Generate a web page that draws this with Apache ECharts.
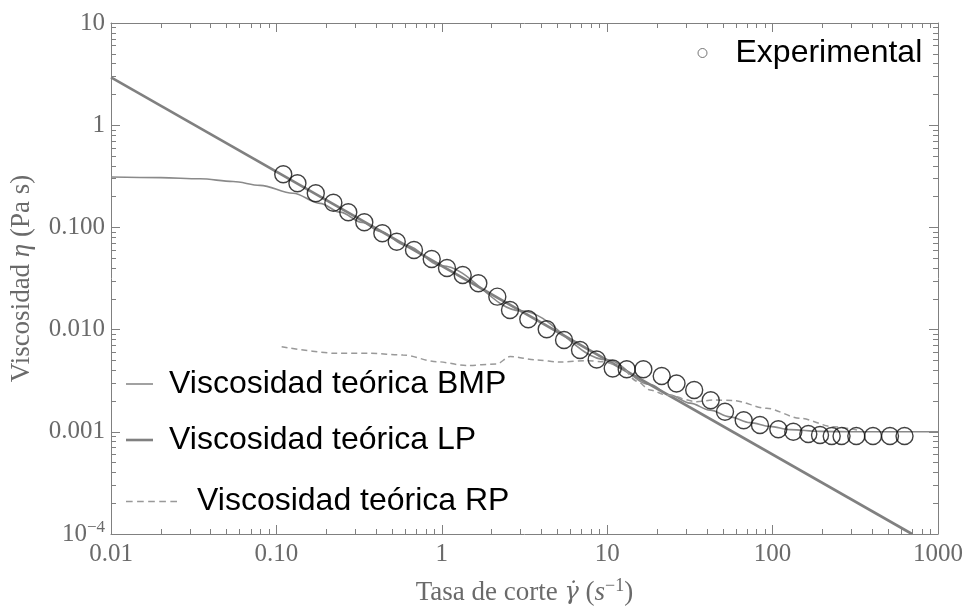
<!DOCTYPE html>
<html><head><meta charset="utf-8">
<script src="https://cdn.jsdelivr.net/npm/echarts@6/dist/echarts.min.js"></script>
<style>html,body{margin:0;padding:0;background:#fff}#c{width:968px;height:606px}</style>
</head><body><div id="c"></div>
<script>
// ---- data ----
const expX = [0.110,0.134,0.173,0.221,0.272,0.340,0.437,0.534,0.679,0.869,1.075,1.338,1.663,2.166,2.584,3.334,4.308,5.483,6.849,8.64,10.80,13.12,16.54,21.36,26.24,33.57,42.26,51.55,66.87,83.9,108.3,133.4,164.4,193.5,227.7,261.1,320.7,404.6,512.6,627.5];
const expY = [0.331,0.270,0.2157,0.1745,0.1405,0.1122,0.0876,0.0724,0.0601,0.0491,0.0401,0.0342,0.0284,0.0210,0.01555,0.01261,0.01007,0.00791,0.00631,0.00510,0.00416,0.00409,0.00409,0.00352,0.00297,0.002565,0.002033,0.001573,0.001296,0.001166,0.00106,0.001002,0.000952,0.000930,0.000909,0.000909,0.000909,0.000909,0.000909,0.000909];

const bmpX = [0.01,0.02,0.0345,0.0547,0.0796,0.126,0.1835,0.2424,0.33,0.423,0.6,1.0,3.0,10,18.15,23.97,31.67,41.83,55.26,73.0,96.4,127.4,193.4,337.6,1000];
const bmpY = [0.311,0.307,0.299,0.281,0.258,0.216,0.172,0.141,0.112,0.0915,0.067,0.0421,0.0153,0.00505,0.0029,0.00229,0.00191,0.00163,0.00140,0.00123,0.00113,0.00105,0.00101,0.001,0.001];

const lpX = [0.01, 697];
const lpY = [2.94, 0.0001];

const rpX = [0.1076,0.2315,0.368,0.5825,0.9316,1.414,2.147,2.585,3.748,5.184,7.516,9.432,11.95,15.08,18.15,22.89,34.76,43.62,57.62,92.1,146.5,231.8,323.8];
const rpY = [0.006804,0.005863,0.005863,0.005643,0.004852,0.004453,0.004606,0.005455,0.005042,0.004819,0.004963,0.004852,0.004403,0.003142,0.002565,0.002291,0.00197,0.002047,0.002024,0.001698,0.001356,0.001122,0.001041];

const xTicks = [0.01,0.1,1,10,100,1000];
const xTickLabels = ['0.01','0.10','1','10','100','1000'];
const yTicks = [0.0001,0.001,0.01,0.1,1,10];
const yTickLabels = ['10^\u22124','0.001','0.010','0.100','1','10'];

const names = ['Experimental','Viscosidad teórica BMP','Viscosidad teórica LP','Viscosidad teórica RP'];

// ---- helpers ----
const zip = (a,b) => a.map((v,i)=>[v,b[i]]);
function minorLogs(lo, hi){ const out=[]; for(let d=lo; d<hi; d++) for(let k=2;k<=9;k++) out.push(d+Math.log10(k)); return out; }
function tickIdx(arr, v){ return arr.findIndex(t => Math.abs(Math.log10(t)-Math.log10(v)) < 1e-6); }

const AX = '#808080';
const LBL = '#6a6a6a';
const SERIF = 'Liberation Serif';
const SANS = 'Liberation Sans';

function logAxis(kind, pos, showLabels){
  const isX = kind === 'x';
  const ax = {
    type:'log', logBase:10, position:pos, splitNumber:5,
    min: isX ? xTicks[0] : yTicks[0], max: isX ? xTicks[5] : yTicks[5],
    axisLine:{show:true, onZero:false, lineStyle:{color:AX, width:1}},
    axisTick:{show:true, inside:true, length:9, lineStyle:{color:AX, width:1}},
    splitLine:{show:false}, minorTick:{show:false}, minorSplitLine:{show:false},
    axisLabel:{show:false}
  };
  if (showLabels){
    ax.axisLabel = {
      show:true, color:LBL, fontFamily:SERIF, fontSize:25, margin: isX ? 8 : 6,
      formatter: v => {
        const i = tickIdx(isX ? xTicks : yTicks, v);
        if (i < 0) return '';
        const s = (isX ? xTickLabels : yTickLabels)[i];
        if (s.indexOf('^') >= 0){ const p = s.split('^'); return '{b|'+p[0]+'}{s|'+p[1]+'}'; }
        return s;
      },
      rich:{
        b:{fontFamily:SERIF, fontSize:25, color:LBL, lineHeight:30},
        s:{fontFamily:SERIF, fontSize:17, color:LBL, verticalAlign:'top', lineHeight:30}
      }
    };
  }
  return ax;
}
function minorAxis(kind, pos){
  const isX = kind === 'x';
  return {
    type:'value', position:pos, min: isX ? -2 : -4, max: isX ? 3 : 1,
    axisLine:{show:false, onZero:false},
    axisTick:{show:true, inside:true, length:5, lineStyle:{color:AX, width:1}, customValues: isX ? minorLogs(-2,3) : minorLogs(-4,1)},
    axisLabel:{show:false}, splitLine:{show:false}
  };
}

const TF = 27;
const xA = logAxis('x','bottom',true);
xA.name = '{n|Tasa de corte }{g|\u03B3\u0307}{n| (}{i|s}{p|\u22121}{n|)}';
xA.nameLocation = 'middle';
xA.nameGap = 43;
xA.nameTextStyle = {
  color:LBL, fontFamily:SERIF, fontSize:TF,
  rich:{
    n:{fontFamily:SERIF, fontSize:TF, color:LBL, lineHeight:32},
    g:{fontFamily:'DejaVu Serif', fontSize:TF-3, fontStyle:'italic', color:LBL, lineHeight:32},
    i:{fontFamily:SERIF, fontSize:TF, fontStyle:'italic', color:LBL, lineHeight:32},
    p:{fontFamily:SERIF, fontSize:18, color:LBL, verticalAlign:'top', lineHeight:32}
  }
};
const yA = logAxis('y','left',true);
yA.name = '{n|Viscosidad }{i|\u03B7}{n| (Pa s)}';
yA.nameLocation = 'middle';
yA.nameGap = 76;
yA.nameTextStyle = {
  color:LBL, fontFamily:SERIF, fontSize:TF,
  rich:{
    n:{fontFamily:SERIF, fontSize:TF, color:LBL},
    i:{fontFamily:SERIF, fontSize:TF, fontStyle:'italic', color:LBL}
  }
};

const legendText = (padL) => ({fontFamily:SANS, fontSize:32, color:'#000', padding:[0,0,15,padL]});
const dashIcon = 'path://M0,0H6V1H0Z M10,0H16V1H10Z M20,0H26V1H20Z M30,0H36V1H30Z M40,0H46V1H40Z';

const option = {
  animation:false,
  backgroundColor:'#fff',
  grid:{left:111, right:30, top:23, bottom:72, containLabel:false, outerBoundsMode:'none'},
  xAxis:[ xA, minorAxis('x','bottom'), logAxis('x','top',false), minorAxis('x','top') ],
  yAxis:[ yA, minorAxis('y','left'), logAxis('y','right',false), minorAxis('y','right') ],
  legend:[
    {data:[{name:names[0], icon:'circle', itemStyle:{color:'#fff', borderColor:'#555', borderWidth:1}}],
     left:697.5, top:37, padding:0, itemWidth:9, itemHeight:9, selectedMode:false, textStyle:legendText(23.5)},
    {data:[{name:names[1], icon:'rect', itemStyle:{color:'#8a8a8a', borderWidth:0}}], left:126, top:368, padding:0,
     itemWidth:27, itemHeight:1.6, symbolKeepAspect:false, selectedMode:false, textStyle:legendText(11)},
    {data:[{name:names[2], icon:'rect', itemStyle:{color:'#808080', borderWidth:0}}], left:126, top:424, padding:0,
     itemWidth:27, itemHeight:2.6, symbolKeepAspect:false, selectedMode:false, textStyle:legendText(11)},
    {data:[{name:names[3], icon:dashIcon, itemStyle:{color:'#999999', borderWidth:0}}], left:126, top:485.5, padding:0,
     itemWidth:51, itemHeight:1.5, symbolKeepAspect:false, selectedMode:false, textStyle:legendText(15)}
  ],
  series:[
    {name:names[1], type:'line', xAxisIndex:0, yAxisIndex:0, data:zip(bmpX,bmpY), symbol:'none', smooth:0.35, smoothMonotone:'x',
     lineStyle:{color:'#8a8a8a', width:1.6}, itemStyle:{color:'#8a8a8a'}, z:2},
    {name:names[2], type:'line', xAxisIndex:0, yAxisIndex:0, data:zip(lpX,lpY), symbol:'none',
     lineStyle:{color:'#808080', width:2.6}, itemStyle:{color:'#808080'}, z:2},
    {name:names[3], type:'line', xAxisIndex:0, yAxisIndex:0, data:zip(rpX,rpY), symbol:'none', smooth:0.3, smoothMonotone:'x',
     lineStyle:{color:'#999999', width:1.5, type:[6,4]}, itemStyle:{color:'#999999'}, z:2},
    {name:names[0], type:'scatter', xAxisIndex:0, yAxisIndex:0, data:zip(expX,expY), symbol:'circle', symbolSize:17,
     itemStyle:{color:'rgba(255,255,255,0)', borderColor:'#111', borderWidth:1.4}, z:3}
  ]
};
const chart = echarts.init(document.getElementById('c'), null, {renderer:'canvas'});
chart.setOption(option);
</script></body></html>
